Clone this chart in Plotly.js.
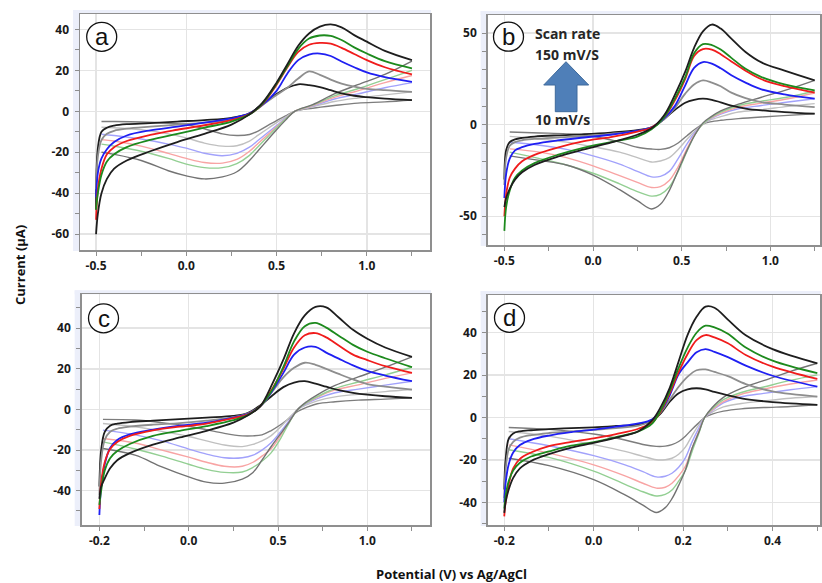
<!DOCTYPE html>
<html><head><meta charset="utf-8">
<script src="https://cdn.plot.ly/plotly-3.0.1.min.js"></script>
<style>html,body{margin:0;padding:0;background:#fff;}#chart{width:822px;height:583px;}</style>
</head><body><div id="chart"></div>
<script>
// ---------- Panel a ----------
const aFwdX = [-0.5,-0.49,-0.47,-0.44,-0.4,-0.33,-0.2,-0.05,0.1,0.25,0.35,0.42,0.5,0.56,0.62,0.68,0.74,0.8,0.86,0.93,1.0,1.1,1.25];
const aF1 = [-48,-18,-10,-8,-7,-6.3,-5.8,-5,-4.3,-3.2,-1,3.5,8.5,11.5,13.2,12.8,11.8,10.3,8.8,7.6,6.9,6.2,5.5];
const aF2 = [-38,-22,-14,-11,-9.5,-8.5,-7.5,-6.5,-5.5,-4,-1.5,3,8,11.5,16,19.5,17.8,15.5,13.5,12,11,10.3,9.5];
const aF3 = [-42,-30,-23,-18.5,-15,-11.8,-9.3,-7.5,-5.5,-3.5,-1,3,10,18.5,25,27.7,28.2,27,24.3,21.5,19,16.7,14.4];
const aF4 = [-53,-38,-28,-21,-17.5,-14.5,-11.5,-9,-6.8,-4.3,-1.3,3.3,13,21.5,29,32.5,33.4,33,31,28,25,21.5,18];
const aF5 = [-48,-40,-31,-24.5,-21,-17.5,-14,-11,-8,-5,-1.5,3.5,13.5,22,30.5,35.5,37,36.8,34.8,31.2,28.2,24.5,21];
const aF6 = [-60,-50,-40,-33,-28,-24,-19.5,-15,-11,-6.5,-1.5,4,14,23,32,38,41.3,42.4,41,37.2,34,29.5,25];
const aRevX = [1.25,1.1,0.95,0.82,0.7,0.6,0.55,0.5,0.45,0.4,0.35,0.28,0.2,0.1,0.0,-0.1,-0.25,-0.4,-0.47];
const aR1 = [5.5,4.6,4,2.8,1.5,0,-2.2,-4.5,-7,-9.5,-11.3,-11.8,-11,-8.5,-6.5,-5.8,-5.2,-5,-5];
const aR2 = [9.5,8,6.5,4.8,2.2,0,-2.8,-5.5,-8.5,-11.5,-14.5,-16.8,-17,-15.5,-13,-11,-9,-8,-7.8];
const aR3 = [14,11.5,8.5,6,2.5,0,-3.3,-7,-10.5,-14,-17.5,-20.5,-21.7,-20.5,-18,-16,-13.5,-11.8,-11.2];
const aR4 = [17.5,14,10,6.8,2.8,0,-3.6,-7.5,-11.5,-15.5,-19.5,-23.5,-25.3,-25,-23,-20.5,-17,-14.5,-13.8];
const aR5 = [20,15.5,11,7.5,3,0,-3.8,-8,-12.5,-17,-21.5,-25.5,-27.5,-27.5,-25.8,-23,-19.5,-17,-16];
const aR6 = [24.5,18,13,8.5,3.3,0,-4.3,-9,-14,-19,-24,-29.5,-32,-33,-31.5,-29,-24,-21,-20];

// ---------- Panel b ----------
const bFwdX = [-0.5,-0.49,-0.47,-0.44,-0.4,-0.33,-0.2,-0.05,0.1,0.25,0.33,0.4,0.46,0.52,0.57,0.62,0.67,0.72,0.78,0.86,0.95,1.08,1.25];
const bF1 = [-30,-14,-9.5,-8,-7.2,-6.5,-5.8,-5.2,-4.3,-3,-1.5,3,8,12,13.6,14.2,13.6,12.2,10.4,8.8,7.8,6.9,6];
const bF2 = [-33,-18,-11.5,-9.5,-8.5,-7.8,-7,-6.2,-5,-3.5,-1.5,3,9,17,22,24.2,23,21,17.5,14.5,12.3,11,9.6];
const bF3 = [-40,-27,-18.5,-14,-12.3,-10.5,-8.6,-7,-5.5,-3.3,-1.5,3.5,10,21.5,31,34.2,33.3,30.8,27,23,19.3,16.5,14.2];
const bF4 = [-50,-38,-29,-24,-20,-16.5,-12.5,-9,-6.8,-3.8,-1.5,4,13,25,37.5,41.3,41,38.5,34.5,29.5,24.8,21,17.5];
const bF5 = [-58,-45,-36,-29,-25,-21,-16.5,-12.5,-9.5,-6.5,-2.5,4,14,26,39,44,43.5,41,36.5,30.5,26,22,18.7];
const bF6 = [-45,-40,-35,-30,-26,-22,-17.5,-13.5,-9.8,-5.5,-2,5,16,29,42,51,54.7,52.5,47,39.7,34,29.5,24.2];
const bRevX = [1.25,1.1,0.95,0.82,0.72,0.66,0.62,0.575,0.53,0.48,0.43,0.38,0.33,0.25,0.15,0.0,-0.15,-0.3,-0.47];
const bR1 = [6,5.1,4.2,3.3,2.4,1.5,0.3,-2.5,-6,-10,-12.6,-13.5,-13.3,-12.3,-9.5,-6.3,-5,-4.5,-4];
const bR2 = [11.5,10,8.2,6.9,4.4,2.5,0.3,-3.5,-8,-13.5,-18,-19.8,-20.4,-18,-15,-12,-9.5,-7.8,-6.4];
const bR3 = [14.2,12.4,10.5,8.7,5.8,3,0.5,-4.3,-10.5,-18.5,-25.5,-28.2,-28.5,-25.5,-21.5,-17,-13.5,-11.2,-9.6];
const bR4 = [17.3,14.2,11.8,9.6,6.2,3.3,0.5,-5,-13,-23,-30.5,-33.8,-34.3,-31.5,-27.8,-22.5,-18,-15,-13.2];
const bR5 = [18.4,15.1,12.9,10.5,6.8,3.5,0.5,-5.5,-14.5,-25.5,-34,-38,-39,-36.5,-32.3,-26.5,-22,-18.5,-15];
const bR6 = [24.2,19.3,15,11.2,7.5,4,1,-5.5,-14,-25,-36,-43.5,-46,-41.5,-35.5,-27.5,-22,-19.5,-17];

// ---------- Panel c ----------
const cFwdX = [-0.5,-0.49,-0.47,-0.44,-0.4,-0.33,-0.2,-0.05,0.1,0.25,0.33,0.4,0.47,0.53,0.59,0.65,0.71,0.77,0.84,0.92,1.0,1.1,1.25];
const cF1 = [-38,-20,-11,-8,-7,-6.2,-5.5,-4.8,-4,-3.2,-1.8,2,7,11,13.2,13.9,12.7,11.2,9.5,8.2,7.3,6.5,5.7];
const cF2 = [-42,-25,-15,-11,-9.5,-8.5,-7.5,-6.7,-5.5,-3.8,-2,1.5,9,15.8,20.5,23,22,20,17.5,14.8,12.5,11.2,9.8];
const cF3 = [-52,-38,-27,-19,-15,-12.3,-10,-8,-6.5,-4,-2.3,1.5,9.5,18,27,30.5,30.8,28,25,21.7,19,16.7,13.9];
const cF4 = [-49,-36,-26,-19.5,-16,-13,-10.3,-8.5,-7,-4.3,-2.5,1.5,10.5,20,30.5,36.5,37.6,35.5,31.5,27,24.3,21.3,18];
const cF5 = [-47,-40,-30,-24,-20.5,-17,-13,-10.5,-8.2,-5.3,-2.8,1.5,10,21,33.5,41,42.6,40.3,36.3,31.8,28.4,25.2,20.8];
const cF6 = [-44,-38,-34,-29,-25,-21.5,-17.3,-13.8,-10.5,-6.5,-3,1.5,13,24.5,37.5,46.3,50.5,50.3,45.3,39.2,34.8,30.5,25.9];
const cRevX = [1.25,1.1,0.95,0.82,0.72,0.66,0.61,0.56,0.51,0.46,0.41,0.36,0.3,0.2,0.1,0.0,-0.15,-0.3,-0.48];
const cR1 = [5.7,5.1,4.6,3.8,2.8,1,-1,-4.5,-7.8,-10.5,-12.5,-13,-13,-11.8,-10,-8.3,-6.5,-5.2,-4.9];
const cR2 = [9.8,8.8,7.5,6.2,4.2,2.2,0,-4.3,-9,-13,-15.5,-17.2,-18.3,-17.5,-15.5,-13.3,-10.8,-8.5,-6.9];
const cR3 = [13.9,12,10,8.2,5.3,2.8,0,-5.8,-11.5,-16.5,-20,-22.5,-23.8,-23.8,-22,-19.5,-15.5,-12.5,-10.2];
const cR4 = [18,15.3,12.1,9.6,6,3.2,0,-6.5,-13.5,-19.5,-23,-26,-28,-28,-26,-23.5,-20,-16.5,-14.3];
const cR5 = [20.8,17,13.5,10.3,6.3,3.3,0,-7,-15,-21.5,-25.5,-28.5,-30.8,-31,-29.5,-27,-23,-19.5,-16];
const cR6 = [25.9,20.8,16,11.8,7.2,3.8,0,-6.5,-12.5,-18.5,-25,-31,-34.3,-36.3,-35.8,-33.2,-28.3,-22.5,-19.2];
const cTickVals = [-0.5,0,0.5,1.0];
const cTickText = ['-0.2','0.0','0.5','1.0'];

// ---------- Panel d ----------
const dFwdX = [-0.2,-0.197,-0.19,-0.18,-0.165,-0.14,-0.1,-0.05,0.0,0.05,0.1,0.13,0.15,0.17,0.19,0.21,0.23,0.25,0.27,0.3,0.34,0.4,0.5];
const dF1 = [-34,-20,-10,-7.5,-6.5,-6,-5.5,-5,-4.6,-4,-3.3,-1.5,2,7.5,11.5,13.3,13.8,13.3,12.1,10.5,8.7,7.3,6];
const dF2 = [-38,-25,-15,-11.5,-9.5,-8.3,-7.3,-6.5,-5.8,-5,-3.8,-1.5,2.5,8.5,14.5,19.3,22.3,22.7,21.5,19.5,15.8,12.3,9.9];
const dF3 = [-40,-31,-22,-16.5,-13,-10.5,-8.5,-6.9,-5.7,-4.3,-2.8,-1,3,10.5,20.5,26,30.8,32.3,31,28.5,24.5,19.7,14.6];
const dF4 = [-46.6,-40,-31.5,-24,-19.5,-16.5,-13.5,-11.5,-9.8,-7.8,-5.3,-2.5,3,11.5,21.5,30,36.5,38.9,37.8,35,29.5,24,18.2];
const dF5 = [-43,-37,-30,-25,-21.3,-18.4,-16,-13.3,-11.6,-9.2,-6.5,-3,3.5,12.5,23.5,33,40,43.3,42.5,39.5,33,26.8,20.9];
const dF6 = [-45,-40,-34,-28.5,-24,-20.5,-17.3,-14.2,-12,-9.5,-6.5,-1.5,5,14,26.5,39,47.5,52.3,51.8,46.2,38.8,32.3,25.6];
const dRevX = [0.5,0.44,0.38,0.33,0.29,0.265,0.248,0.235,0.22,0.205,0.19,0.175,0.16,0.14,0.11,0.07,0.0,-0.1,-0.19];
const dR1 = [6,5.2,4.7,4.1,3,1.6,0,-2.5,-5.5,-8.8,-11.3,-12.8,-13.5,-13.6,-12.7,-10.6,-7.8,-5.6,-4.7];
const dR2 = [9.9,9.1,7.8,6.6,5,2.5,0,-3.5,-8.5,-14,-17.3,-19.2,-19.9,-19.9,-18.3,-16,-12.8,-8.8,-6.6];
const dR3 = [14.6,13.1,11.4,9.8,6.9,3.2,0,-5,-11.5,-19,-23.5,-26.3,-27.7,-28,-25.5,-22.3,-18,-13.3,-10];
const dR4 = [17.7,15.8,13.4,11,7.5,3.6,0,-6.5,-14.5,-23,-27.5,-31,-32.9,-33.3,-31,-27.5,-22.3,-16.8,-12.9];
const dR5 = [20.1,17.5,14.4,11.8,8.4,4,0,-7.5,-16,-25,-30,-34.2,-36.3,-37,-35,-31.5,-25.3,-18.8,-15.2];
const dR6 = [25.6,21.8,17.4,13.7,9.5,4.7,0,-7,-14.5,-24.8,-32,-38.3,-42.5,-44.8,-41.3,-36.5,-29.3,-22.7,-19.2];

const fwdColors = ['#1e1e1e','#8e8e8e','#1f1ff2','#f01c1c','#1d8a1d','#1e1e1e'];
const revColors = ['#7d7d7d','#c0c0c0','#a2a2fb','#f8a4a4','#93cf93','#737373'];

const panels = [
  {fx:aFwdX, f:[aF1,aF2,aF3,aF4,aF5,aF6], rx:aRevX, r:[aR1,aR2,aR3,aR4,aR5,aR6], xa:'x', ya:'y'},
  {fx:bFwdX, f:[bF1,bF2,bF3,bF4,bF5,bF6], rx:bRevX, r:[bR1,bR2,bR3,bR4,bR5,bR6], xa:'x2', ya:'y2'},
  {fx:cFwdX, f:[cF1,cF2,cF3,cF4,cF5,cF6], rx:cRevX, r:[cR1,cR2,cR3,cR4,cR5,cR6], xa:'x3', ya:'y3'},
  {fx:dFwdX, f:[dF1,dF2,dF3,dF4,dF5,dF6], rx:dRevX, r:[dR1,dR2,dR3,dR4,dR5,dR6], xa:'x4', ya:'y4'}
];

const traces = [];
panels.forEach(p => {
  p.r.forEach((ys, i) => traces.push({type:'scatter', mode:'lines', x:p.rx, y:ys, xaxis:p.xa, yaxis:p.ya,
    line:{color:revColors[i], width:1.4, shape:'spline', smoothing:1}, hoverinfo:'skip', showlegend:false}));
  p.f.forEach((ys, i) => traces.push({type:'scatter', mode:'lines', x:p.fx, y:ys, xaxis:p.xa, yaxis:p.ya,
    line:{color:fwdColors[i], width:1.8, shape:'spline', smoothing:1}, hoverinfo:'skip', showlegend:false}));
});

const W = 822, H = 583;
const px = v => v / W, py = v => 1 - v / H;
const tickFont = {family:'Open Sans, DejaVu Sans, sans-serif', size:12, color:'#1a1a1a', weight:'bold'};
function ax(domain, range, extra, minorD, anchor){
  return Object.assign({domain:domain, range:range, anchor:anchor, showline:true, mirror:true, linecolor:'#8f8f8f', linewidth:1.5,
    showgrid:true, gridcolor:'#e4e4e4', gridwidth:1.5, zeroline:false, ticks:'outside', ticklen:4, tickcolor:'#8f8f8f',
    tickfont:tickFont, fixedrange:true,
    minor:{dtick:minorD, ticks:'outside', ticklen:4, tickcolor:'#8f8f8f', showgrid:false}}, extra);
}
const xDomA = [px(80), px(430)], xDomB = [px(487.7), px(820)];
const layout = {
  width:W, height:H, margin:{l:0,r:0,t:0,b:0}, paper_bgcolor:'#ffffff', plot_bgcolor:'#ffffff', showlegend:false,
  xaxis: ax(xDomA, [-0.589,1.35], {tickvals:[-0.5,0,0.5,1.0], ticktext:['-0.5','0.0','0.5','1.0']}, 0.25, 'y'),
  yaxis: ax([py(250), py(14)], [-67.7,47.5], {tickvals:[-60,-40,-20,0,20,40], ticktext:['-60','-40','-20','0','20','40'], ticklabelstandoff:3}, 10, 'x'),
  xaxis2: ax(xDomB, [-0.594,1.28], {tickvals:[-0.5,0,0.5,1.0], ticktext:['-0.5','0.0','0.5','1.0']}, 0.25, 'y2'),
  yaxis2: ax([py(245), py(15)], [-65.7,59.9], {tickvals:[-50,0,50], ticktext:['-50','0','50'], ticklabelstandoff:3}, 10, 'x2'),
  xaxis3: ax([px(81.7), px(430)], [-0.599,1.351], {tickvals:cTickVals, ticktext:cTickText}, 0.25, 'y3'),
  yaxis3: ax([py(525), py(294.3)], [-56.9,56.7], {tickvals:[-40,-20,0,20,40], ticktext:['-40','-20','0','20','40'], ticklabelstandoff:3}, 10, 'x3'),
  xaxis4: ax(xDomB, [-0.237,0.506], {tickvals:[-0.2,0,0.2,0.4], ticktext:['-0.2','0.0','0.2','0.4']}, 0.1, 'y4'),
  yaxis4: ax([py(525), py(295)], [-50.7,57.8], {tickvals:[-40,-20,0,20,40], ticktext:['-40','-20','0','20','40'], ticklabelstandoff:3}, 10, 'x4'),
  shapes: [], annotations: []
};
// thin lavender strips along the left and top of each plot frame
[[80,14,430,250],[487.7,15,820,245],[81.7,294.3,430,525],[487.7,295,820,525]].forEach(r => {
  layout.shapes.push({type:'rect', xref:'paper', yref:'paper', x0:px(r[0]-7), x1:px(r[0]), y0:py(r[3]+1), y1:py(r[1]-4),
    fillcolor:'#eceffa', line:{width:0}, layer:'below'});
  layout.shapes.push({type:'rect', xref:'paper', yref:'paper', x0:px(r[0]-7), x1:px(r[2]+1), y0:py(r[1]), y1:py(r[1]-4),
    fillcolor:'#eceffa', line:{width:0}, layer:'below'});
});
// white patches hiding grid near labels
[['x','y',0.171,0.826],['x2','y2',0.383,0.535],['x3','y3',0.142,0.80],['x4','y4',0.2,0.80]].forEach(p => layout.shapes.push({
  type:'rect', xref:p[0]+' domain', yref:p[1]+' domain', x0:0.004, x1:p[2], y0:p[3], y1:0.996, fillcolor:'#ffffff', line:{width:0}, layer:'below'}));
// panel letters in circles
[['a',101.7,36.8],['b',508.5,36.7],['c',103.5,318.3],['d',509.5,317.8]].forEach(c => {
  layout.shapes.push({type:'circle', xref:'paper', yref:'paper', x0:px(c[1]-15), x1:px(c[1]+15), y0:py(c[2]+14.5), y1:py(c[2]-14.5),
    fillcolor:'#ffffff', line:{color:'#111111', width:1.3}, layer:'above'});
  layout.annotations.push({text:c[0], xref:'paper', yref:'paper', x:px(c[1]), y:py(c[2]), xanchor:'center', yanchor:'middle', showarrow:false,
    font:{family:'Liberation Sans, Arial, sans-serif', size:24, color:'#111111'}});
});
// scan-rate arrow (panel b)
const arrowPts = [[566,61.7],[588.7,85],[577,85],[577,111.7],[555.3,111.7],[555.3,85],[543.7,85]];
layout.shapes.push({type:'path', xref:'paper', yref:'paper', layer:'above',
  path:'M' + arrowPts.map(p => px(p[0]).toFixed(5)+','+py(p[1]).toFixed(5)).join(' L') + ' Z',
  fillcolor:'#4f7fb8', line:{color:'#3e6a9c', width:1}});
const noteFont = {family:'Open Sans, DejaVu Sans, sans-serif', size:14, color:'#262626', weight:'bold'};
[['Scan rate',33.3],['150 mV/S',54.3],['10 mV/s',119]].forEach(t => layout.annotations.push({
  text:t[0], xref:'paper', yref:'paper', x:px(533), y:py(t[1]), xanchor:'left', yanchor:'middle', showarrow:false, font:noteFont}));
// shared axis titles
const titleFont = {family:'Open Sans, DejaVu Sans, sans-serif', size:13, color:'#111111', weight:'bold'};
layout.annotations.push({text:'Current (μA)', xref:'paper', yref:'paper', x:px(20), y:py(265), textangle:-90,
  xanchor:'center', yanchor:'middle', showarrow:false, font:titleFont});
layout.annotations.push({text:'Potential (V) vs Ag/AgCl', xref:'paper', yref:'paper', x:px(451.5), y:py(574),
  xanchor:'center', yanchor:'middle', showarrow:false, font:titleFont});

Plotly.newPlot('chart', traces, layout, {displayModeBar:false, staticPlot:true});
</script></body></html>
